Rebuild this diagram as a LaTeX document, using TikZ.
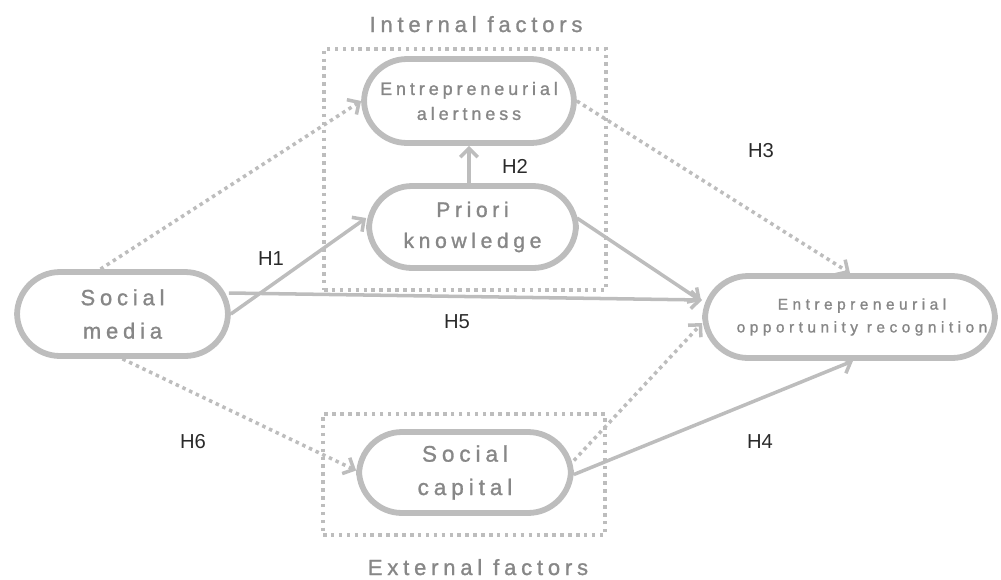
\documentclass[tikz,border=0pt]{standalone}
\usepackage{fontspec}
\setmainfont{Liberation Sans}
\newfontfamily\spacedfont[LetterSpace=22,FakeBold=1.2]{Liberation Sans}
\newfontfamily\eorfont[LetterSpace=29,FakeBold=1.2]{Liberation Sans}
\usetikzlibrary{arrows.meta,calc}
\definecolor{lineg}{HTML}{BDBDBD}
\definecolor{textg}{HTML}{878787}
\definecolor{hcol}{HTML}{2A2A2A}
\tikzset{
  pill/.style={draw=lineg, line width=3.3pt, rounded corners=0.86cm, fill=white,
    align=center, inner sep=0pt, text=textg},
  solidarrow/.style={draw=lineg, line width=2pt, -{Straight Barb[length=5pt,width=10pt,line width=2pt]}},
  dotarrow/.style={solidarrow, dash pattern=on 2pt off 2.2pt},
  factorbox/.style={draw=lineg, line width=2pt, dash pattern=on 2pt off 2.5pt},
  hlabel/.style={font=\fontsize{11.5}{13}\selectfont, text=hcol, anchor=base},
  factortext/.style={font=\spacedfont\fontsize{12.5}{15}\selectfont, text=textg, anchor=base},
}
\begin{document}
\begin{tikzpicture}[x=0.02cm,y=-0.02cm]
\useasboundingbox (0,0) rectangle (1001,579);
% factor boxes
\node[factorbox, inner sep=0pt, minimum width=5.64cm, minimum height=4.82cm] (inbox) at (465,169.5) {};
\node[factorbox, inner sep=0pt, minimum width=5.64cm, minimum height=2.42cm] (exbox) at (464,474.5) {};
\node[factortext] (intext) at (476,32) {Internal factors};
\node[factortext] (extext) at (478,575) {External factors};
% nodes
\node[pill, minimum width=4.22cm, minimum height=1.68cm, font=\spacedfont\fontsize{12.5}{19}\selectfont] (sm) at (122.5,314) {Social\\media};
\node[pill, minimum width=4.2cm, minimum height=1.68cm, font=\spacedfont\fontsize{10.2}{14.2}\selectfont] (ea) at (469,101) {Entrepreneurial\\alertness};
\node[pill, minimum width=4.14cm, minimum height=1.64cm, font=\spacedfont\fontsize{12}{17.6}\selectfont] (pk) at (472.5,227) {Priori\\knowledge};
\node[pill, minimum width=5.8cm, minimum height=1.64cm] (eor) at (850,317) {};
\node[align=center, inner sep=0pt, text=textg, font=\eorfont\fontsize{8.8}{13}\selectfont] (eortext) at ($(eor.center)+(12,0)$) {Entrepreneurial\\opportunity recognition};
\node[pill, minimum width=4.24cm, minimum height=1.62cm, font=\spacedfont\fontsize{12.8}{19}\selectfont] (sc) at (465,472.5) {Social\\capital};
% connectors
\draw[dotarrow] ($(sm.north)+(-22,0)$) -- (ea.west);
\draw[solidarrow] (sm.east) -- ($(pk.west)+(0,-9)$);
\draw[solidarrow] ($(sm.east)+(-2,-21)$) -- ($(eor.west)+(0,-17)$);
\draw[solidarrow] ($(pk.east)+(-2,-9)$) -- ($(eor.west)+(-1,-16)$);
\draw[solidarrow] (pk.north -| ea.south) -- (ea.south);
\draw[dotarrow] (ea.east) -- (eor.north);
\draw[dotarrow] ($(sc.east)+(0,-12)$) -- ($(eor.west)+(0,6)$);
\draw[solidarrow] ($(sc.east)+(0,2)$) -- ($(eor.south)+(3,0)$);
\draw[dotarrow] (sm.south) -- ($(sc.west)+(0,-2)$);
% labels
\node[hlabel] (h1) at (271,265) {H1};
\node[hlabel] (h2) at (515,173) {H2};
\node[hlabel] (h3) at (761,157) {H3};
\node[hlabel] (h4) at (760,448) {H4};
\node[hlabel] (h5) at (457,328) {H5};
\node[hlabel] (h6) at (193,448) {H6};
\end{tikzpicture}
\end{document}
